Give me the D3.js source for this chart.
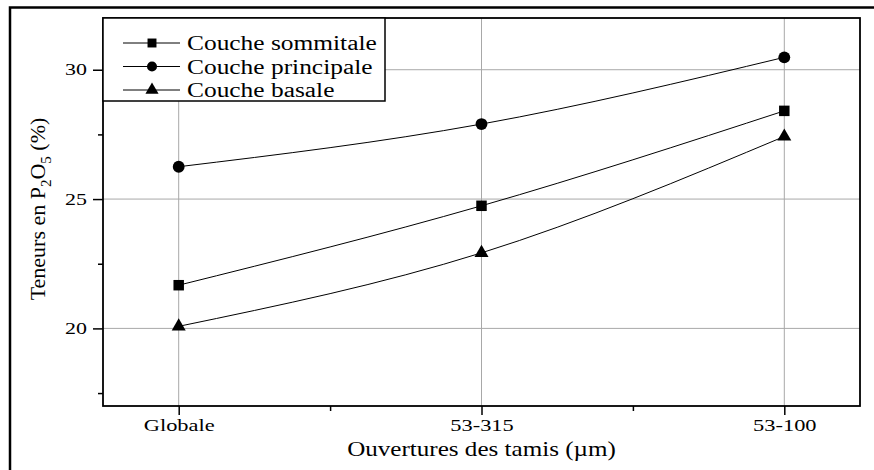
<!DOCTYPE html>
<html>
<head>
<meta charset="utf-8">
<script src="https://cdn.jsdelivr.net/npm/d3@7"></script>
<style>
  body { margin: 0; background: #fff; }
  svg text { font-family: "Liberation Serif", "DejaVu Serif", serif; fill: #000; }
</style>
</head>
<body>
<div id="chart"></div>
<script>
var categories = ['Globale', '53-315', '53-100'];
var sommitale = [21.67, 24.74, 28.41];
var principale = [26.25, 27.9, 30.48];
var basale = [20.08, 22.92, 27.42];
var yTicks = [20, 25, 30];
var yMinorTicks = [17.5, 22.5, 27.5];

var seriesList = [
    {name: 'Couche sommitale', values: sommitale, symbol: d3.symbolSquare},
    {name: 'Couche principale', values: principale, symbol: d3.symbolCircle},
    {name: 'Couche basale', values: basale, symbol: d3.symbolTriangle}
];

var width = 874, height = 470;
var plotLeft = 103, plotRight = 860, plotTop = 18, plotBottom = 406;

var svg = d3.select('#chart').append('svg')
    .attr('width', width)
    .attr('height', height);

// the original's lettering is wider than Times, stretch it a bit
function widen(sel, k) {
    sel.each(function() {
        var w = this.getComputedTextLength();
        d3.select(this)
            .attr('textLength', w * k)
            .attr('lengthAdjust', 'spacingAndGlyphs');
    });
}

// outer frame (left and top only visible)
svg.append('path')
    .attr('d', 'M10,470 L10,7.5 L874,7.5')
    .attr('fill', 'none')
    .attr('stroke', '#000')
    .attr('stroke-width', 2.5);

var x = d3.scaleLinear().domain([-0.25, 2.25]).range([plotLeft, plotRight]);
var y = d3.scaleLinear().domain([17, 32]).range([plotBottom, plotTop]);

// grid
var grid = svg.append('g');
grid.selectAll('.hg')
    .data(yTicks)
    .enter().append('line')
        .attr('x1', plotLeft).attr('x2', plotRight)
        .attr('y1', function(d) { return y(d); })
        .attr('y2', function(d) { return y(d); })
        .attr('stroke', '#a8a8a8')
        .attr('stroke-width', 1);
grid.selectAll('.vg')
    .data(categories)
    .enter().append('line')
        .attr('x1', function(d, i) { return x(i); })
        .attr('x2', function(d, i) { return x(i); })
        .attr('y1', plotTop).attr('y2', plotBottom)
        .attr('stroke', '#a8a8a8')
        .attr('stroke-width', 1);

// axes
var xAxis = d3.axisBottom(x)
    .tickValues([0, 1, 2])
    .tickFormat(function(d) { return categories[d]; })
    .tickSize(9)
    .tickPadding(5);
var gx = svg.append('g')
    .attr('transform', 'translate(0,' + plotBottom + ')')
    .call(xAxis);
gx.select('.domain').remove();
gx.selectAll('line').attr('stroke-width', 1.5);
gx.selectAll('text')
    .style('font-size', '16px')
    .style('font-family', '"Liberation Serif", serif')
    .call(widen, 1.4);

var gxm = svg.append('g')
    .attr('transform', 'translate(0,' + plotBottom + ')')
    .call(d3.axisBottom(x).tickValues([0.5, 1.5]).tickSize(5).tickFormat(''));
gxm.select('.domain').remove();
gxm.selectAll('line').attr('stroke-width', 1.5);

var yAxis = d3.axisLeft(y)
    .tickValues(yTicks)
    .tickSize(10)
    .tickPadding(6);
var gy = svg.append('g')
    .attr('transform', 'translate(' + plotLeft + ',0)')
    .call(yAxis);
gy.select('.domain').remove();
gy.selectAll('line').attr('stroke-width', 1.5);
gy.selectAll('text')
    .style('font-size', '16px')
    .style('font-family', '"Liberation Serif", serif')
    .call(widen, 1.37);

var gym = svg.append('g')
    .attr('transform', 'translate(' + plotLeft + ',0)')
    .call(d3.axisLeft(y).tickValues(yMinorTicks).tickSize(5).tickFormat(''));
gym.select('.domain').remove();
gym.selectAll('line').attr('stroke-width', 1.5);

// plot frame
svg.append('rect')
    .attr('x', plotLeft).attr('y', plotTop)
    .attr('width', plotRight - plotLeft).attr('height', plotBottom - plotTop)
    .attr('fill', 'none')
    .attr('stroke', '#000')
    .attr('stroke-width', 1.8);

// lines
var line = d3.line()
    .x(function(d, i) { return x(i); })
    .y(function(d) { return y(d); })
    .curve(d3.curveNatural);

var series = svg.selectAll('.series')
    .data(seriesList)
    .enter().append('g')
        .attr('class', 'series');

series.append('path')
    .attr('d', function(d) { return line(d.values); })
    .attr('fill', 'none')
    .attr('stroke', '#000')
    .attr('stroke-width', 1);

series.each(function(s) {
    d3.select(this).selectAll('.pt')
        .data(s.values)
        .enter().append('path')
            .attr('transform', function(d, i) { return 'translate(' + x(i) + ',' + y(d) + ')'; })
            .attr('d', d3.symbol().type(s.symbol).size(s.symbol === d3.symbolTriangle ? 85 : 110))
            .attr('fill', '#000');
});

// legend
var legend = svg.append('g');
legend.append('rect')
    .attr('x', plotLeft).attr('y', plotTop)
    .attr('width', 282).attr('height', 83)
    .attr('fill', '#fff')
    .attr('stroke', '#000')
    .attr('stroke-width', 1.5);

var item = legend.selectAll('.item')
    .data(seriesList)
    .enter().append('g')
        .attr('transform', function(d, i) { return 'translate(0,' + (43 + i * 23.5) + ')'; });
item.append('line')
    .attr('x1', 123).attr('x2', 180)
    .attr('stroke', '#000').attr('stroke-width', 1);
item.append('path')
    .attr('transform', 'translate(152,0)')
    .attr('d', function(d) { return d3.symbol().type(d.symbol).size(d.symbol === d3.symbolTriangle ? 75 : 80)(); })
    .attr('fill', '#000');
item.append('text')
    .attr('x', 187).attr('y', 7)
    .style('font-size', '20px')
    .text(function(d) { return d.name; })
    .call(widen, 1.27);

// axis titles
svg.append('text')
    .attr('x', (plotLeft + plotRight) / 2)
    .attr('y', 456)
    .attr('text-anchor', 'middle')
    .style('font-size', '22px')
    .text('Ouvertures des tamis (\u00b5m)')
    .call(widen, 1.14);

var yt = svg.append('text')
    .attr('transform', 'translate(45,209) rotate(-90)')
    .attr('text-anchor', 'middle')
    .style('font-size', '22px');
yt.append('tspan').text('Teneurs en P');
yt.append('tspan').attr('dy', 6).style('font-size', '15px').text('2');
yt.append('tspan').attr('dy', -6).text('O');
yt.append('tspan').attr('dy', 6).style('font-size', '15px').text('5');
yt.append('tspan').attr('dy', -6).text(' (%)');
</script>
</body>
</html>
